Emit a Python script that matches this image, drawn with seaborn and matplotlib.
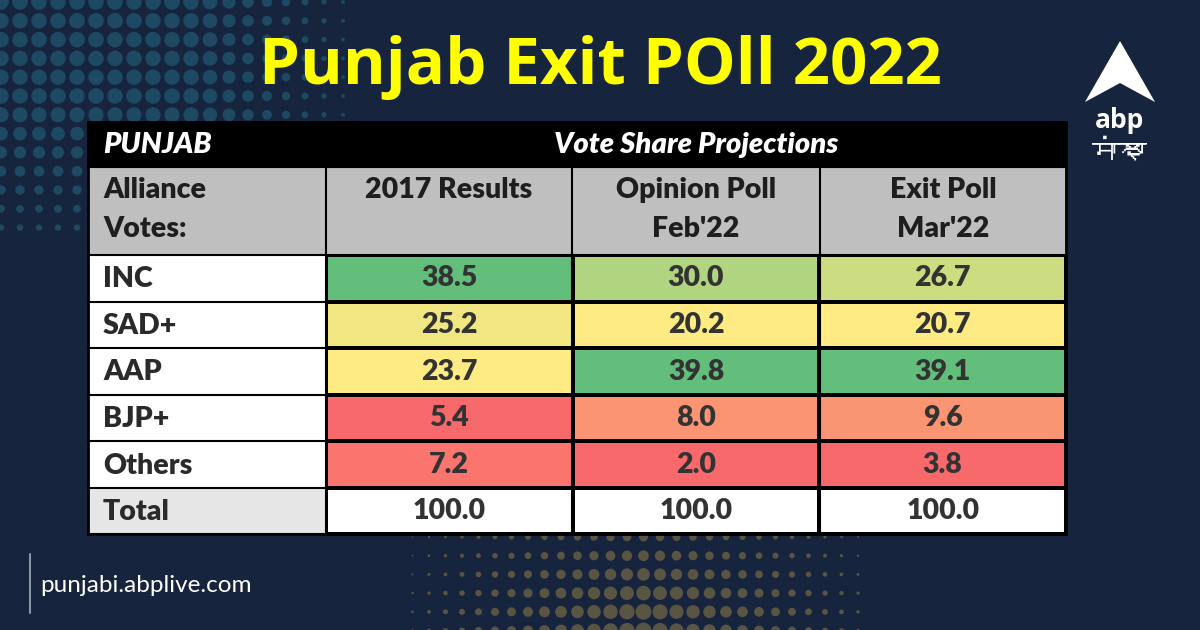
import numpy as np
import pandas as pd
import matplotlib.pyplot as plt
import seaborn as sns
from matplotlib import font_manager
from matplotlib.ft2font import FT2Font
from matplotlib.colors import LinearSegmentedColormap, ListedColormap
from matplotlib.patches import Rectangle, Polygon

sns.set_theme(style='white')
plt.rcParams['font.family'] = ['Lato', 'DejaVu Sans']

# data
parties = ['INC', 'SAD+', 'AAP', 'BJP+', 'Others']
columns = ['2017 Results', "Opinion Poll\nFeb'22", "Exit Poll\nMar'22"]
results_2017 = [38.5, 25.2, 23.7, 5.4, 7.2]
opinion_feb22 = [30.0, 20.2, 39.8, 8.0, 2.0]
exit_mar22 = [26.7, 20.7, 39.1, 9.6, 3.8]
totals = [100.0, 100.0, 100.0]
logo_sub = 'ਸਾਂਝਾ'

df = pd.DataFrame({columns[0]: results_2017,
                   columns[1]: opinion_feb22,
                   columns[2]: exit_mar22}, index=parties)
total_df = pd.DataFrame([totals], index=['Total'], columns=columns)


def colour_scale(col):
    # excel style 3 colour scale, midpoint at the median
    lo, mid, hi = col.min(), col.median(), col.max()
    return np.where(col <= mid, 0.5 * (col - lo) / (mid - lo),
                    0.5 + 0.5 * (col - mid) / (hi - mid))


def find_family(text):
    for f in font_manager.fontManager.ttflist:
        try:
            cmap = FT2Font(f.fname).get_charmap()
        except Exception:
            continue
        if all(ord(c) in cmap for c in text):
            return f.name
    return None


shade = df.apply(colour_scale)
excel_cmap = LinearSegmentedColormap.from_list('excel', ['#F8696B', '#FFEB84', '#63BE7B'])

BG = '#17243d'
W, H = 1200, 630
fig = plt.figure(figsize=(12, 6.3), dpi=100)
fig.patch.set_facecolor(BG)


def fig_rect(x0, y0, x1, y1):
    return [x0 / W, (H - y1) / H, (x1 - x0) / W, (y1 - y0) / H]


# background + decoration
bg = fig.add_axes([0, 0, 1, 1])
bg.set_xlim(0, W)
bg.set_ylim(H, 0)
bg.axis('off')
bg.set_facecolor(BG)

gx, gy = np.meshgrid(np.arange(1, 345, 19.0), np.arange(2, 230, 18.8))
fx = np.clip(1 - (gx - 200) / 190, 0, 1)
fy = np.clip(1 - (gy - 110) / 200, 0, 1)
d = 15.5 * fx * fy
keep = d > 1.5
bg.scatter(gx[keep], gy[keep], s=(d[keep] * 0.72) ** 2, color='#1d4a62', linewidths=0)

bx, by = np.meshgrid(np.arange(396, 860, 16.5), np.arange(537, 640, 18.7))
dmax = np.clip(9 + (by - 537) * 0.1, 0, 16)
d2 = dmax * np.clip(1 - np.abs(bx - 642) / 255, 0, 1) ** 0.8
keep = d2 > 1.2
bg.scatter(bx[keep], by[keep], s=(d2[keep] * 0.72) ** 2, color='#5a5543', linewidths=0)

bg.text(600, 68, 'Punjab Exit POll 2022', color='#ffff00', fontsize=47,
        fontweight='bold', family=['Open Sans', 'DejaVu Sans'], ha='center', va='center')

# logo
bg.add_patch(Polygon([(1120, 41), (1155, 102), (1120, 83), (1085, 102)],
                     closed=True, color='white', lw=0))
bg.text(1120, 121, 'abp', color='white', fontsize=19, fontweight='bold',
        family=['Open Sans', 'DejaVu Sans'], ha='center', va='center')
gur = find_family(logo_sub)
if gur:
    bg.text(1120, 150, logo_sub, color='white', fontsize=20, fontweight='bold',
            family=[gur, 'DejaVu Sans'], ha='center', va='center')

# footer
bg.plot([30, 30], [554, 613], color='#8a94a6', lw=1.5)
bg.text(40, 585, 'punjabi.abplive.com', color='white', fontsize=17.5,
        ha='left', va='center')

# table frame pieces
bg.add_patch(Rectangle((88, 122), 978, 45, color='black', zorder=3))
bg.add_patch(Rectangle((88, 167), 978, 88, color='#bfbfbf', zorder=3))
bg.add_patch(Rectangle((88, 255), 238, 233, color='white', zorder=3))
bg.add_patch(Rectangle((88, 488), 238, 46, color='#e7e6e6', zorder=3))

tkw = dict(color='#1e1e1e', fontsize=20.5, fontweight='heavy', zorder=4)
bg.text(103, 145, 'PUNJAB', color='white', fontsize=21, fontweight='heavy',
        style='italic', ha='left', va='center', zorder=4)
bg.text(696, 145, 'Vote Share Projections', color='white', fontsize=21,
        fontweight='heavy', style='italic', ha='center', va='center', zorder=4)
bg.text(103, 177, 'Alliance\nVotes:', ha='left', va='top', linespacing=1.6, **tkw)
col_mid = [449, 696, 943]
for cx, name in zip(col_mid, columns):
    bg.text(cx, 177, name, ha='center', va='top', linespacing=1.6,
            multialignment='center', **tkw)

row_edges = np.linspace(255, 488, len(parties) + 1)
for name, y0, y1 in zip(parties, row_edges[:-1], row_edges[1:]):
    bg.text(103, (y0 + y1) / 2 + 1, name, ha='left', va='center',
            **{**tkw, 'color': '#2a2a2a'})
bg.text(103, 512, 'Total', ha='left', va='center', **{**tkw, 'color': '#2a2a2a'})

num_kw = dict(color='#333333', fontsize=20.5, fontweight='heavy')

# heatmap of vote shares
ax = fig.add_axes(fig_rect(326, 255, 1066, 488))
sns.heatmap(shade, annot=df, fmt='.1f', cmap=excel_cmap, vmin=0, vmax=1,
            cbar=False, linewidths=1.5, linecolor='black',
            xticklabels=False, yticklabels=False, ax=ax, annot_kws=num_kw)

ax_tot = fig.add_axes(fig_rect(326, 488, 1066, 534))
sns.heatmap(total_df, annot=True, fmt='.1f', cmap=ListedColormap(['white']),
            cbar=False, linewidths=1.5, linecolor='black',
            xticklabels=False, yticklabels=False, ax=ax_tot, annot_kws=num_kw)

# grid lines on top
ov = fig.add_axes([0, 0, 1, 1])
ov.set_xlim(0, W)
ov.set_ylim(H, 0)
ov.axis('off')
ov.patch.set_alpha(0)
for y in list(row_edges) + [534]:
    ov.plot([88, 1066], [y, y], color='black', lw=1.5)
for x in [326, 572, 820]:
    ov.plot([x, x], [167, 534], color='black', lw=1.5)
ov.plot([88, 1066], [167, 167], color='black', lw=1.5)
ov.add_patch(Rectangle((88, 122), 978, 412, fill=False, ec='black', lw=2))

fig.savefig('out.png', dpi=100, facecolor=BG)
